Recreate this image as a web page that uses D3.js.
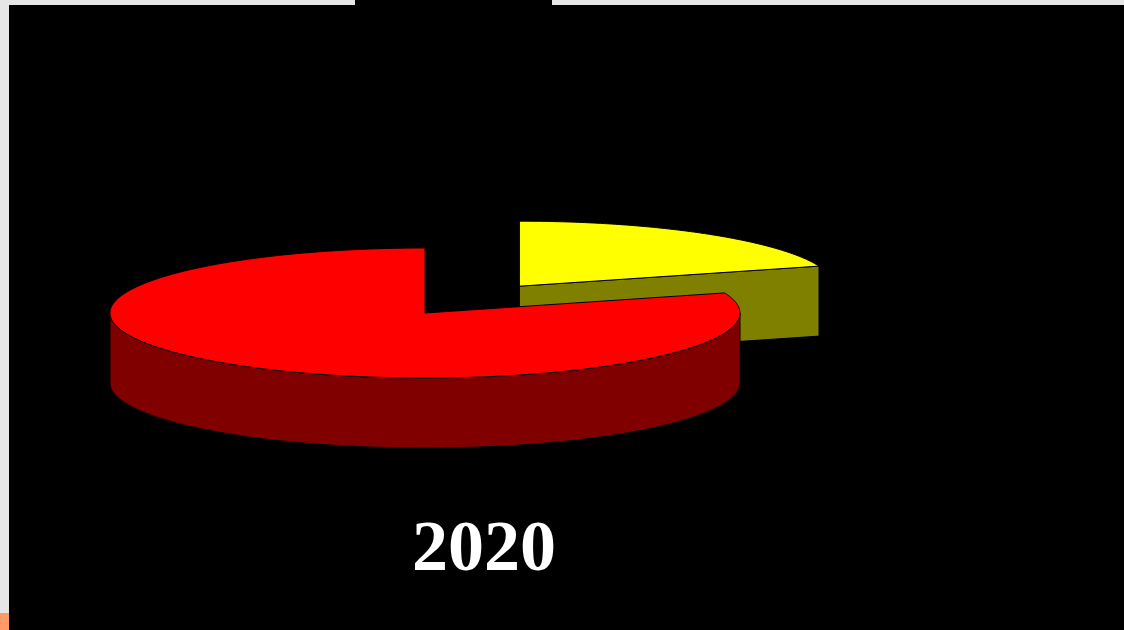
<!DOCTYPE html>
<html>
<head>
<meta charset="utf-8">
<script src="https://cdn.jsdelivr.net/npm/d3@7"></script>
<style>
  body { margin: 0; background: #000; }
  svg { display: block; }
</style>
</head>
<body>
<svg id="chart"></svg>
<script>
const w = 1124,
      h = 630;

// chart data
const categories = ['Slice B', 'Slice A'];
const values = [20, 80];
const topColors = ['#ffff00', '#ff0000'];
const sideColors = ['#808000', '#800000'];
const explode = [0.51, 0];
const title = '2020';

// geometry of the tilted pie
const cx = 425, cy = 313;
const rx = 315, ry = 65, depth = 70;

const svg = d3.select('#chart').attr('width', w).attr('height', h);

// slide frame
svg.append('rect').attr('width', w).attr('height', h).attr('fill', '#e6e6e6');
svg.append('rect').attr('x', 9).attr('y', 5).attr('width', w - 9).attr('height', h - 5).attr('fill', '#000');
svg.append('rect').attr('x', 355).attr('y', 0).attr('width', 197).attr('height', 6).attr('fill', '#000');
svg.append('rect').attr('x', 0).attr('y', 613).attr('width', 9).attr('height', h - 613).attr('fill', '#ff9966');

const x = d3.scaleLinear().domain([-1, 1]).range([cx - rx, cx + rx]);
const y = d3.scaleLinear().domain([-1, 1]).range([cy + ry, cy - ry]);

const pie = d3.pie().sort(null).value(d => d.value);
const slices = pie(categories.map((c, i) => ({name: c, value: values[i], i: i})));

// point on the rim, angle clockwise from 12 o'clock
const rim = (a, ox, oy, dz) => [x(Math.sin(a)) + ox, y(Math.cos(a)) + oy + dz];

const arcPoints = (a0, a1, ox, oy, dz) => {
    const n = Math.max(2, Math.ceil(Math.abs(a1 - a0) / 0.01));
    return d3.range(n + 1).map(k => rim(a0 + (a1 - a0) * k / n, ox, oy, dz));
};

const line = d3.line();
const g = svg.append('g');

slices.forEach(s => {
    const mid = (s.startAngle + s.endAngle) / 2;
    const e = explode[s.data.i];
    const ox = x(Math.sin(mid) * e) - x(0);
    const oy = y(Math.cos(mid) * e) - y(0);
    const c = [cx + ox, cy + oy];
    const sg = g.append('g');

    // radial side faces that face the viewer
    [s.startAngle, s.endAngle].forEach((a, k) => {
        const facing = k === 0 ? Math.cos(a - Math.PI / 2) < 0 : Math.cos(a + Math.PI / 2) < 0;
        if (!facing) return;
        const p = rim(a, ox, oy, 0);
        sg.append('path')
          .attr('d', line([c, p, [p[0], p[1] + depth], [c[0], c[1] + depth]]) + 'Z')
          .attr('fill', sideColors[s.data.i])
          .attr('stroke', '#000')
          .attr('stroke-width', 1);
    });

    // outer wall, front half only
    const a0 = Math.max(s.startAngle, Math.PI / 2);
    const a1 = Math.min(s.endAngle, Math.PI * 3 / 2);
    if (a1 > a0) {
        const upper = arcPoints(a0, a1, ox, oy, 0);
        const lower = arcPoints(a1, a0, ox, oy, depth);
        sg.append('path')
          .attr('d', line(upper.concat(lower)) + 'Z')
          .attr('fill', sideColors[s.data.i])
          .attr('stroke', '#000')
          .attr('stroke-width', 1);
    }

    // top face
    sg.append('path')
      .attr('d', line([c].concat(arcPoints(s.startAngle, s.endAngle, ox, oy, 0))) + 'Z')
      .attr('fill', topColors[s.data.i])
      .attr('stroke', '#000')
      .attr('stroke-width', 1);
});

svg.append('text')
   .attr('x', 484)
   .attr('y', 570)
   .attr('text-anchor', 'middle')
   .attr('font-family', '"Liberation Serif", "DejaVu Serif", serif')
   .attr('font-weight', 'bold')
   .attr('font-size', 72)
   .attr('fill', '#fff')
   .text(title);
</script>
</body>
</html>
